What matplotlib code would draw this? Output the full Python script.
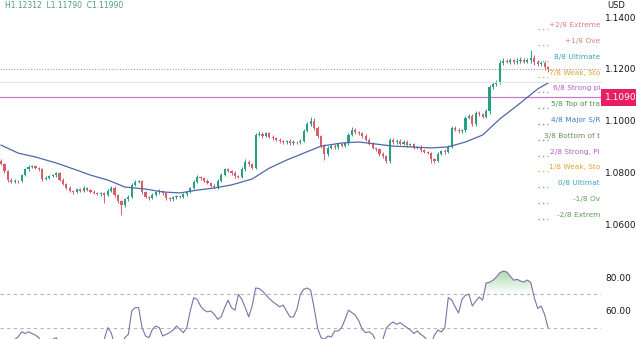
import numpy as np
import matplotlib
matplotlib.use("Agg")
import matplotlib.pyplot as plt
from matplotlib.lines import Line2D
from matplotlib.path import Path
import matplotlib.transforms as mtransforms

# --- daily closes (EUR/USD) ---
closes = [
    1.0832, 1.0805, 1.0772, 1.0764, 1.0768, 1.0766, 1.0790, 1.0812, 1.0820, 1.0823,
    1.0817, 1.0812, 1.0775, 1.0779, 1.0784, 1.0788, 1.0796, 1.0772, 1.0755, 1.0741,
    1.0728, 1.0722, 1.0735, 1.0729, 1.0738, 1.0733, 1.0725, 1.0721, 1.0716, 1.0719,
    1.0712, 1.0728, 1.0741, 1.0712, 1.0688, 1.0672, 1.0695, 1.0705, 1.0752, 1.0763,
    1.0766, 1.0722, 1.0706, 1.0700, 1.0712, 1.0722, 1.0728, 1.0718, 1.0700, 1.0695,
    1.0703, 1.0708, 1.0705, 1.0716, 1.0725, 1.0738, 1.0762, 1.0782, 1.0776, 1.0768,
    1.0760, 1.0748, 1.0742, 1.0768, 1.0790, 1.0812, 1.0805, 1.0797, 1.0785, 1.0782,
    1.0812, 1.0840, 1.0830, 1.0818, 1.0944, 1.0946, 1.0940, 1.0950, 1.0938, 1.0932,
    1.0925, 1.0920, 1.0915, 1.0921, 1.0912, 1.0918, 1.0915, 1.0922, 1.0960, 1.0985,
    1.1000, 1.0972, 1.0940, 1.0902, 1.0870, 1.0895, 1.0902, 1.0896, 1.0908, 1.0903,
    1.0912, 1.0945, 1.0962, 1.0955, 1.0950, 1.0940, 1.0925, 1.0910, 1.0895, 1.0888,
    1.0872, 1.0862, 1.0842, 1.0925, 1.0915, 1.0922, 1.0910, 1.0918, 1.0905, 1.0908,
    1.0895, 1.0898, 1.0885, 1.0880, 1.0875, 1.0850, 1.0845, 1.0870, 1.0882, 1.0878,
    1.0898, 1.0971, 1.0965, 1.0958, 1.0962, 1.1010, 1.1018, 1.0985, 1.1030, 1.1025,
    1.1015, 1.1035, 1.1129, 1.1140, 1.1150, 1.1222, 1.1230, 1.1228, 1.1232, 1.1226,
    1.1230, 1.1235, 1.1228, 1.1232, 1.1240, 1.1225, 1.1218, 1.1222, 1.1205, 1.1199,
]
first_open = 1.0845

# wick lengths in pips above / below the body
upper_pips = [
    6, 5, 4, 6, 5, 4, 5, 6, 7, 5, 6, 5, 4, 5, 6, 5, 6, 4, 5, 4,
    5, 4, 6, 5, 7, 5, 4, 5, 4, 6, 5, 6, 7, 4, 5, 6, 5, 6, 7, 8,
    6, 4, 5, 4, 6, 5, 7, 4, 5, 6, 5, 4, 6, 5, 4, 6, 7, 6, 5, 4,
    5, 4, 6, 5, 7, 6, 5, 4, 6, 5, 7, 10, 6, 5, 8, 12, 10, 7, 6, 5,
    5, 6, 4, 5, 6, 5, 4, 6, 8, 9, 14, 8, 6, 5, 6, 5, 7, 6, 5, 6,
    5, 7, 13, 8, 6, 5, 7, 6, 5, 4, 5, 6, 4, 8, 6, 7, 5, 6, 5, 6,
    5, 4, 6, 5, 4, 5, 6, 7, 5, 6, 8, 7, 6, 5, 6, 8, 7, 6, 7, 6,
    5, 8, 9, 8, 7, 10, 12, 8, 9, 7, 10, 12, 8, 11, 32, 14, 9, 8, 7, 6,
]
lower_pips = [
    5, 6, 8, 6, 5, 6, 5, 4, 6, 5, 4, 6, 7, 5, 6, 4, 5, 6, 5, 6,
    5, 6, 4, 5, 6, 5, 7, 4, 5, 6, 31, 5, 6, 7, 8, 37, 6, 5, 6, 4,
    5, 7, 6, 8, 5, 4, 6, 5, 7, 6, 5, 6, 5, 4, 6, 5, 4, 5, 6, 5,
    6, 5, 4, 6, 5, 4, 5, 6, 7, 5, 4, 6, 7, 5, 6, 5, 6, 4, 5, 6,
    5, 6, 5, 4, 6, 5, 7, 4, 5, 6, 5, 7, 6, 8, 23, 6, 5, 6, 5, 4,
    6, 5, 4, 6, 5, 7, 6, 5, 6, 7, 8, 6, 6, 5, 4, 6, 5, 4, 6, 5,
    6, 5, 7, 6, 5, 14, 8, 6, 5, 6, 5, 6, 5, 7, 6, 5, 6, 8, 5, 6,
    7, 6, 8, 7, 6, 9, 7, 6, 8, 7, 6, 9, 7, 6, 8, 10, 9, 8, 10, 12,
]

# moving average, sampled along the curve
ma_idx = [0, 5, 10, 16, 21, 26, 31, 36, 42, 47, 52, 57, 62, 67, 73, 78, 83,
          88, 93, 99, 104, 109, 114, 119, 125, 130, 135, 140, 145, 151, 156, 159]
ma_vals = [1.0905, 1.0874, 1.0859, 1.0836, 1.0813, 1.0789, 1.0770, 1.0743,
           1.0735, 1.0724, 1.0720, 1.0731, 1.0739, 1.0751, 1.0774, 1.0816,
           1.0847, 1.0874, 1.0901, 1.0913, 1.0917, 1.0909, 1.0901, 1.0898,
           1.0894, 1.0898, 1.0917, 1.0944, 1.1006, 1.1068, 1.1122, 1.1145]

rsi = [
    41, 41, 40, 42, 43, 44.5, 47.5, 46.5, 47.5, 46.5,
    45.5, 44, 40, 41, 42, 43, 44, 41, 38, 36,
    35, 37, 39, 38, 40, 42, 40, 39, 37, 39,
    43, 50, 47, 40, 42, 40, 44, 46, 60, 62,
    62, 50, 45, 44, 49, 51, 50, 45, 46, 47,
    48.5, 51, 49, 47, 50, 60, 68, 67, 63, 60.5,
    59.5, 60, 58, 55, 56.5, 62, 66.5, 62, 60.5, 70,
    67, 62, 56.5, 63, 73.8, 73.5, 72, 69.6, 67.5, 65.5,
    64, 62.5, 63.5, 60, 56.4, 56.4, 61, 70, 73, 73.8,
    72.5, 62, 50, 44, 43, 45, 44.4, 48, 48, 50,
    55, 60.5, 59, 57.5, 54, 49, 47, 47.5, 46, 42,
    41, 43, 49.8, 52, 53.4, 52, 53, 51.5, 50, 48.6,
    46.5, 48, 46, 44.5, 42, 40, 45.6, 48.6, 47.4, 49.8,
    68, 66.6, 62.5, 58.8, 67, 69.5, 70, 63, 66, 68.4,
    66.5, 76.8, 77.2, 78.5, 80.4, 83, 84, 83.4, 81, 78.5,
    79, 78, 77.4, 78.6, 77, 68, 61.5, 63, 58, 50,
]

# Murrey math levels
murrey_base = 1.07422
murrey_step = 0.0061035
murrey_labels = ["-2/8 Extrem", "-1/8 Ov", "0/8 Ultimat", "1/8 Weak, Sto",
                 "2/8 Strong, Pi", "3/8 Bottom of t", "4/8 Major S/R",
                 "5/8 Top of tra", "6/8 Strong pi", "7/8 Weak, Sto",
                 "8/8 Ultimate", "+1/8 Ove", "+2/8 Extreme"]
murrey_colors = ["#5f9e5f", "#5f9e5f", "#3aa6b9", "#e0a530", "#b35fc1",
                 "#6b8e5a", "#3d7fc2", "#4a9a48", "#b35fc1", "#e0a530",
                 "#3aa6b9", "#d98080", "#d98080"]

hline_price = 1.1090
price_ticks = [1.06, 1.08, 1.10, 1.12, 1.14]
rsi_ticks = [60, 80]

closes = np.array(closes)
opens = np.r_[first_open, closes[:-1]]
highs = np.maximum(opens, closes) + np.array(upper_pips) * 1e-4
lows = np.minimum(opens, closes) - np.array(lower_pips) * 1e-4
x = np.arange(len(closes))
rsi = np.array(rsi)

W, H = 636, 339
fig = plt.figure(figsize=(W / 100, H / 100), dpi=100)
ax = fig.add_axes([0, 82 / H, 601 / W, 257 / H])
ax2 = fig.add_axes([0, 0, 601 / W, 81 / H])

up_c, dn_c = "#26a085", "#d4606a"
colors = np.where(closes >= opens, up_c, dn_c)
ax.vlines(x, lows, highs, colors=colors, lw=0.7, zorder=3)
ax.bar(x, np.maximum(np.abs(closes - opens), 0.00008), bottom=np.minimum(opens, closes),
       width=0.62, color=colors, linewidth=0, zorder=4)
ax.plot(ma_idx, ma_vals, color="#5067a8", lw=0.9, zorder=5)

ax.axhline(hline_price, color="#c47ec4", lw=0.9, zorder=2)
ax.axhline(closes[-1], color="#9aa0a6", lw=0.8, ls=(0, (1, 1.5)), zorder=2)

xmin, xmax = -0.3, 174.4
ax.set_xlim(xmin, xmax)
ax.set_ylim(1.04725, 1.14657)

# Murrey labels with short dotted markers
trans = mtransforms.blended_transform_factory(ax.transAxes, ax.transData)
for k, (lab, col) in enumerate(zip(murrey_labels, murrey_colors)):
    lvl = murrey_base + (k - 2) * murrey_step
    ax.plot([0.895, 0.912], [lvl, lvl], transform=trans, color=col, lw=1.0,
            ls=(0, (1, 2.2)), alpha=0.8, zorder=6)
    ax.text(0.9985, lvl + 0.0004, lab, transform=trans, ha="right", va="bottom",
            fontsize=5.3, color=col, zorder=7, clip_on=True)

ax.yaxis.tick_right()
ax.set_yticks(price_ticks)
ax.set_yticklabels([f"{t:.4f}" for t in price_ticks])
ax.tick_params(axis="y", length=0, pad=3, labelsize=6.5, labelcolor="#131722")
ax.set_xticks([])
for s in ax.spines.values():
    s.set_visible(False)

ax.text(1.006, hline_price, f"{hline_price:.4f}", transform=trans, ha="left",
        va="center", fontsize=6.5, color="white", zorder=8,
        bbox=dict(boxstyle="square,pad=0.45", fc="#e91e63", ec="none"))
fig.text(607 / W, 1 - 1 / H, "USD", fontsize=6, color="#131722", va="top")
fig.text(5 / W, 1 - 1 / H, "H1.12312  L1.11790  C1.11990", fontsize=5.5,
         color="#4f9a8a", va="top")

# RSI pane
ax2.plot(x, rsi, color="#7a72a8", lw=0.8, zorder=4)
ax2.axhline(70, color="#b2b5be", lw=0.8, ls=(0, (3, 3)), zorder=2)
ax2.axhline(50, color="#b2b5be", lw=0.8, ls=(0, (3, 3)), zorder=2)
poly = ax2.fill_between(x, rsi, 70, where=rsi > 70, interpolate=True,
                        facecolor="none", edgecolor="none")
paths = poly.get_paths()
if paths:
    grad = np.zeros((256, 1, 4))
    grad[..., :3] = matplotlib.colors.to_rgb("#4caf50")
    grad[:, 0, 3] = np.linspace(0, 0.55, 256)
    im = ax2.imshow(grad, extent=[xmin, xmax, 70, 86], origin="lower",
                    aspect="auto", zorder=3)
    im.set_clip_path(Path.make_compound_path(*paths), transform=ax2.transData)
ax2.set_xlim(xmin, xmax)
ax2.set_ylim(43.2, 91.8)
ax2.yaxis.tick_right()
ax2.set_yticks(rsi_ticks)
ax2.set_yticklabels([f"{t:.2f}" for t in rsi_ticks])
ax2.tick_params(axis="y", length=0, pad=3, labelsize=6.5, labelcolor="#131722")
ax2.set_xticks([])
for s in ax2.spines.values():
    s.set_visible(False)

fig.add_artist(Line2D([0, 601 / W], [257.5 / H, 257.5 / H], color="#e0e3eb", lw=0.8))

fig.savefig("out.png", dpi=100, facecolor="white")
